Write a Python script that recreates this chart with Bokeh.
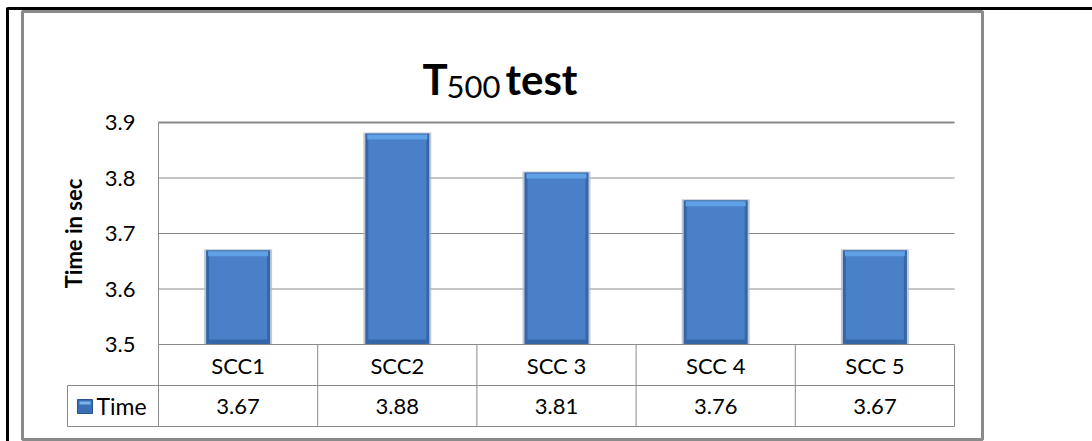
import math
from bokeh.plotting import figure
from bokeh.models import Range1d
from bokeh.core.properties import value
from bokeh.embed import file_html
from bokeh.resources import INLINE

# ---- data ----
categories = ["SCC1", "SCC2", "SCC 3", "SCC 4", "SCC 5"]
times = [3.67, 3.88, 3.81, 3.76, 3.67]
y_ticks = [3.5, 3.6, 3.7, 3.8, 3.9]
series_name = "Time"
y_label = "Time in sec"
title_main, title_sub, title_rest = "T", "500", "test"

# ---- layout (page pixels) ----
W, H = 1092, 441
OFF = 0
PLOT_L, PLOT_R, PLOT_T, PLOT_B = 158, 954, 122, 344
ROW_H = 41
LEG_L = 67
Y_MIN, Y_MAX = y_ticks[0], y_ticks[-1]
N = len(categories)
UX = (PLOT_R - PLOT_L) / N
UY = (PLOT_B - PLOT_T) / (Y_MAX - Y_MIN)


def dx(px):
    return (px - PLOT_L) / UX


def dy(py):
    return Y_MIN + (PLOT_B - py) / UY


FONT = value("Lato")
GRAY = "#8a8a8a"

p = figure(width=W, height=H, output_backend="svg", toolbar_location=None,
           x_range=Range1d(dx(OFF), dx(OFF + W)),
           y_range=Range1d(dy(OFF + H), dy(OFF)),
           x_axis_location=None, y_axis_location=None,
           min_border=0, min_border_left=0, min_border_right=0,
           min_border_top=0, min_border_bottom=0)
p.grid.visible = False
p.outline_line_color = None
p.background_fill_color = "white"
p.border_fill_color = "white"

# outer document borders (black)
p.segment(x0=[dx(7)], y0=[dy(8)], x1=[dx(W)], y1=[dy(8)],
          line_color="black", line_width=3)
p.segment(x0=[dx(7)], y0=[dy(7)], x1=[dx(7)], y1=[dy(H)],
          line_color="black", line_width=3)

# chart area border (gray)
p.quad(left=[dx(22)], right=[dx(982)], top=[dy(11)], bottom=[dy(439)],
       fill_color=None, line_color=GRAY, line_width=3)

# grid lines
mid_ticks = y_ticks[1:-1]
p.segment(x0=[0] * len(mid_ticks), y0=mid_ticks, x1=[N] * len(mid_ticks), y1=mid_ticks,
          line_color=GRAY, line_width=1)
p.segment(x0=[0], y0=[Y_MAX], x1=[N], y1=[Y_MAX], line_color=GRAY, line_width=2)
p.segment(x0=[0], y0=[Y_MIN], x1=[0], y1=[Y_MAX], line_color=GRAY, line_width=1)

# bars (layered to imitate the bevelled Excel look)
xs = [i + 0.5 for i in range(N)]
BW = 64 / UX
px1 = 1 / UY
p.vbar(x=xs, top=[t + 1 * px1 for t in times], bottom=Y_MIN, width=BW + 4 / UX,
       fill_color="#b4bcc8", line_color=None, fill_alpha=0.8)
p.vbar(x=xs, top=times, bottom=Y_MIN, width=BW,
       fill_color="#3567a8", line_color=None)
p.vbar(x=xs, top=[t - 5 * px1 for t in times], bottom=Y_MIN + 5 * px1, width=BW - 6 / UX,
       fill_color="#4a80c8", line_color=None)
p.vbar(x=xs, top=[t - 1 * px1 for t in times], bottom=[t - 6 * px1 for t in times],
       width=BW - 4 / UX, fill_color="#60a0e6", line_color=None)

# table
r1 = dy(PLOT_B + ROW_H)
r2 = dy(PLOT_B + 2 * ROW_H)
p.segment(x0=[0, dx(LEG_L), dx(LEG_L)], y0=[Y_MIN, r1, r2],
          x1=[N, N, N], y1=[Y_MIN, r1, r2], line_color=GRAY, line_width=1)
vx = list(range(N + 1))
p.segment(x0=vx, y0=[Y_MIN] * len(vx), x1=vx, y1=[r2] * len(vx),
          line_color=GRAY, line_width=1)
p.segment(x0=[dx(LEG_L)], y0=[r1], x1=[dx(LEG_L)], y1=[r2],
          line_color=GRAY, line_width=1)

p.text(x=xs, y=[dy(PLOT_B + ROW_H / 2)] * N, text=categories,
       text_align="center", text_baseline="middle", text_font=FONT,
       text_font_size="22px", text_color="black")
p.text(x=xs, y=[dy(PLOT_B + 1.5 * ROW_H)] * N, text=["%.2f" % t for t in times],
       text_align="center", text_baseline="middle", text_font=FONT,
       text_font_size="22px", text_color="black")

# legend key + name
p.quad(left=[dx(77)], right=[dx(92)], top=[dy(399)], bottom=[dy(413)],
       fill_color="#3a6fb6", line_color="#2a548e", line_width=1)
p.quad(left=[dx(79)], right=[dx(90)], top=[dy(401)], bottom=[dy(404)],
       fill_color="#7fb3ea", line_color=None)
p.text(x=[dx(96)], y=[dy(PLOT_B + 1.5 * ROW_H)], text=[series_name],
       text_align="left", text_baseline="middle", text_font=FONT,
       text_font_size="23px", text_color="black")

# y tick labels
p.text(x=[dx(135)] * len(y_ticks), y=y_ticks, text=["%.1f" % t for t in y_ticks],
       text_align="right", text_baseline="middle", text_font=FONT,
       text_font_size="22px", text_color="black")

# y axis title
p.text(x=[dx(73)], y=[dy(233)], text=[y_label], angle=math.pi / 2,
       text_align="center", text_baseline="middle", text_font=FONT,
       text_font_size="22px", text_font_style="bold", text_color="black")

# chart title with subscript
p.text(x=[dx(422)], y=[dy(78)], text=[title_main], text_align="left",
       text_baseline="alphabetic", text_font=FONT, text_font_size="42px",
       text_font_style="bold", text_color="black")
p.text(x=[dx(446)], y=[dy(86)], text=[title_sub], text_align="left",
       text_baseline="alphabetic", text_font=FONT, text_font_size="31px",
       text_color="black")
p.text(x=[dx(505)], y=[dy(78)], text=[title_rest], text_align="left",
       text_baseline="alphabetic", text_font=FONT, text_font_size="42px",
       text_font_style="bold", text_color="black")

open("out.html", "w").write(file_html(p, INLINE))
